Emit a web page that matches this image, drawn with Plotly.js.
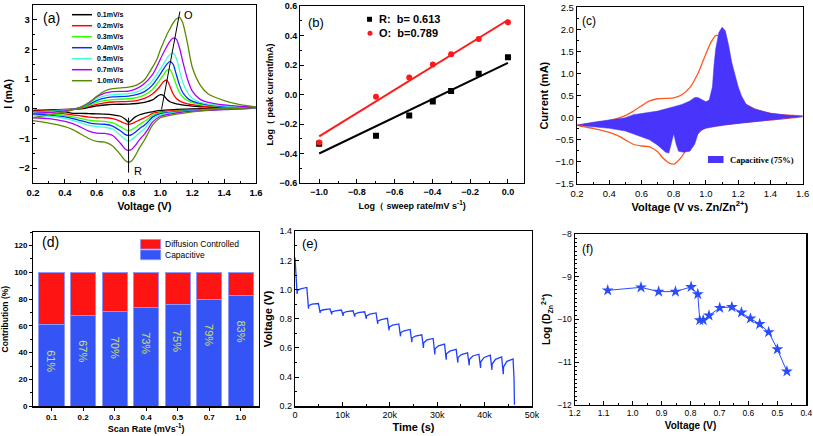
<!DOCTYPE html>
<html><head><meta charset="utf-8">
<script src="https://cdn.plot.ly/plotly-3.0.1.min.js"></script>
<style>html,body{margin:0;padding:0;background:#fff}#chart{width:813px;height:436px}</style>
</head><body><div id="chart"></div>
<script>
// ---------- (a) CV curves at different scan rates ----------
const rateLabels = ['0.1mV/s','0.2mV/s','0.3mV/s','0.4mV/s','0.5mV/s','0.7mV/s','1.0mV/s'];
const rateColors = ['#000000','#ff0000','#33ff00','#0033ff','#44ffcc','#aa00ff','#5a8a00'];
const vUp = [0.2,0.3,0.4,0.5,0.55,0.6,0.65,0.7,0.8,0.85,0.9,0.95,0.98,1.0,1.02,1.04,1.06,1.08,1.1,1.12,1.14,1.17,1.2,1.25,1.3,1.4,1.5,1.6];
const vDn = [1.6,1.4,1.2,1.1,1.0,0.95,0.92,0.9,0.87,0.84,0.82,0.8,0.78,0.75,0.7,0.65,0.6,0.55,0.5,0.45,0.4,0.3,0.2];
const iUp01 = [-0.05,-0.04,-0.02,0.0,0.05,0.1,0.13,0.15,0.16,0.18,0.22,0.3,0.42,0.48,0.45,0.32,0.24,0.2,0.17,0.15,0.13,0.11,0.09,0.07,0.06,0.04,0.03,0.03];
const iUp02 = [-0.08,-0.06,-0.03,0.02,0.08,0.15,0.2,0.23,0.25,0.28,0.35,0.5,0.65,0.78,0.92,0.97,0.75,0.5,0.35,0.27,0.22,0.17,0.14,0.1,0.08,0.05,0.04,0.04];
const iUp03 = [-0.1,-0.08,-0.04,0.03,0.12,0.22,0.28,0.31,0.34,0.38,0.47,0.65,0.85,1.0,1.15,1.3,1.32,1.1,0.8,0.55,0.4,0.28,0.21,0.15,0.11,0.07,0.05,0.04];
const iUp04 = [-0.12,-0.09,-0.05,0.04,0.15,0.28,0.36,0.4,0.43,0.48,0.58,0.8,1.02,1.18,1.35,1.5,1.6,1.5,1.15,0.8,0.55,0.36,0.26,0.18,0.13,0.08,0.06,0.05];
const iUp05 = [-0.13,-0.1,-0.06,0.05,0.18,0.34,0.44,0.48,0.51,0.57,0.7,0.95,1.18,1.35,1.52,1.7,1.83,1.88,1.7,1.3,0.9,0.55,0.36,0.22,0.16,0.1,0.07,0.05];
const iUp07 = [-0.15,-0.12,-0.07,0.06,0.2,0.4,0.53,0.58,0.6,0.68,0.85,1.15,1.45,1.68,1.9,2.1,2.28,2.38,2.35,2.05,1.6,1.0,0.6,0.32,0.22,0.13,0.08,0.05];
const iUp10 = [-0.3,-0.2,-0.1,0.05,0.2,0.42,0.6,0.68,0.73,0.8,0.98,1.4,1.7,2.0,2.25,2.5,2.7,2.9,3.03,3.08,2.9,2.2,1.4,0.8,0.5,0.28,0.14,0.06];
const iDn01 = [0.03,0.02,0.0,-0.02,-0.05,-0.1,-0.13,-0.15,-0.2,-0.28,-0.38,-0.45,-0.35,-0.25,-0.2,-0.18,-0.17,-0.16,-0.15,-0.15,-0.1,-0.07,-0.05];
const iDn02 = [0.03,0.01,-0.03,-0.06,-0.1,-0.15,-0.25,-0.3,-0.37,-0.45,-0.5,-0.52,-0.5,-0.42,-0.33,-0.3,-0.3,-0.28,-0.24,-0.2,-0.17,-0.13,-0.1];
const iDn03 = [0.03,0.0,-0.05,-0.08,-0.13,-0.22,-0.35,-0.42,-0.52,-0.64,-0.7,-0.73,-0.7,-0.6,-0.47,-0.42,-0.41,-0.38,-0.32,-0.27,-0.22,-0.17,-0.14];
const iDn04 = [0.03,-0.01,-0.06,-0.1,-0.16,-0.28,-0.45,-0.55,-0.66,-0.8,-0.87,-0.9,-0.87,-0.75,-0.58,-0.52,-0.51,-0.47,-0.4,-0.33,-0.27,-0.21,-0.18];
const iDn05 = [0.03,-0.02,-0.07,-0.12,-0.2,-0.35,-0.55,-0.67,-0.8,-0.95,-1.04,-1.08,-1.04,-0.9,-0.68,-0.62,-0.6,-0.56,-0.47,-0.39,-0.32,-0.25,-0.22];
const iDn07 = [0.04,-0.03,-0.08,-0.14,-0.25,-0.45,-0.7,-0.85,-1.03,-1.25,-1.36,-1.4,-1.36,-1.17,-0.9,-0.83,-0.82,-0.75,-0.62,-0.5,-0.42,-0.33,-0.3];
const iDn10 = [0.05,0.0,-0.1,-0.18,-0.3,-0.55,-0.85,-1.05,-1.3,-1.6,-1.75,-1.8,-1.75,-1.55,-1.25,-1.12,-1.1,-1.0,-0.85,-0.7,-0.6,-0.48,-0.4];
const peakOx = [1.007,1.122], peakOy = [-0.02,3.28];
const peakRx = [0.8,0.8], peakRy = [-0.3,-2.15];

// ---------- (b) log(peak current) vs log(sweep rate) ----------
const logRate = [-1,-0.699,-0.523,-0.398,-0.301,-0.155,0];
const logIR = [-0.334,-0.28,-0.142,-0.047,0.023,0.14,0.253];
const logIO = [-0.325,-0.016,0.115,0.203,0.273,0.377,0.49];
const fitX = [-1,0];
const fitR = [-0.40,0.215];
const fitO = [-0.284,0.505];

// ---------- (c) capacitive contribution at 0.5 mV/s ----------
const cUpV = [0.2,0.3,0.4,0.5,0.55,0.6,0.65,0.7,0.8,0.85,0.9,0.95,1.0,1.03,1.06,1.08,1.1,1.13,1.16,1.2,1.25,1.3,1.4,1.5,1.6];
const cUpI = [-0.17,-0.12,-0.06,0.05,0.15,0.27,0.38,0.43,0.45,0.52,0.68,1.0,1.45,1.7,1.86,1.85,1.55,1.0,0.6,0.35,0.3,0.2,0.1,0.06,0.04];
const cDnV = [1.6,1.4,1.2,1.1,1.0,0.95,0.9,0.85,0.82,0.8,0.77,0.73,0.7,0.65,0.6,0.55,0.5,0.45,0.4,0.3,0.2];
const cDnI = [0.03,-0.05,-0.12,-0.17,-0.22,-0.35,-0.6,-0.88,-1.0,-1.05,-1.02,-0.9,-0.77,-0.66,-0.64,-0.6,-0.5,-0.4,-0.33,-0.24,-0.17];
const capUpV = [0.2,0.3,0.4,0.5,0.55,0.6,0.7,0.8,0.85,0.9,0.93,0.95,0.97,1.0,1.02,1.04,1.05,1.06,1.08,1.1,1.12,1.14,1.16,1.18,1.2,1.22,1.25,1.3,1.4,1.5,1.6];
const capUpI = [-0.17,-0.1,-0.05,0.0,0.07,0.1,0.15,0.25,0.3,0.38,0.46,0.46,0.42,0.36,0.4,0.7,1.2,1.55,1.93,2.05,1.97,1.65,1.25,0.95,0.7,0.5,0.3,0.2,0.1,0.06,0.04];
const capDnV = [1.6,1.4,1.2,1.1,1.0,0.97,0.95,0.93,0.9,0.86,0.83,0.815,0.8,0.785,0.77,0.75,0.72,0.7,0.65,0.6,0.55,0.5,0.4,0.3,0.2];
const capDnI = [0.03,-0.05,-0.12,-0.17,-0.24,-0.28,-0.37,-0.6,-0.76,-0.78,-0.76,-0.6,-0.36,-0.6,-0.8,-0.78,-0.68,-0.62,-0.5,-0.43,-0.37,-0.3,-0.24,-0.2,-0.17];

// ---------- (d) contribution ratio ----------
const scanRates = ['0.1','0.2','0.3','0.4','0.5','0.7','1.0'];
const capPct = [61,68,71,74,76,80,83];
const difPct = [39,32,29,26,24,20,17];
const capLabels = ['61%','67%','70%','73%','75%','79%','83%'];

// ---------- (e) GITT profile ----------
const eT = [0,450,500,1200,2450,
 2500,2850,2900,3600,4900, 4950,5300,5350,6050,7350, 7400,7750,7800,8500,9750,
 9800,10150,10200,10900,12200, 12250,12600,12650,13350,14650, 14700,15050,15100,15800,17050,
 17100,17450,17500,18200,19450, 19500,19850,19900,20600,21850, 21900,22250,22300,23000,24250,
 24300,24650,24700,25400,26700, 26750,27100,27150,27850,29100, 29150,29500,29550,30250,31500,
 31550,31900,31950,32650,33950, 34000,34350,34400,35100,36350, 36400,36750,36800,37500,38750,
 38800,39150,39200,39900,41150, 41200,41550,41600,42300,43550, 43600,43950,44000,44700,45950,
 46000,46200,46300];
const eV = [1.22,0.97,0.995,1.005,1.015,
 1.015,0.87,0.89,0.9,0.905, 0.905,0.84,0.855,0.862,0.868, 0.868,0.83,0.848,0.855,0.86,
 0.86,0.82,0.84,0.85,0.855, 0.855,0.815,0.832,0.842,0.848, 0.848,0.8,0.82,0.832,0.84,
 0.84,0.765,0.785,0.795,0.803, 0.803,0.72,0.745,0.757,0.765, 0.765,0.68,0.705,0.718,0.727,
 0.727,0.64,0.668,0.682,0.69, 0.69,0.6,0.635,0.655,0.665, 0.665,0.555,0.595,0.615,0.627,
 0.627,0.52,0.56,0.578,0.59, 0.59,0.5,0.535,0.555,0.566, 0.566,0.48,0.52,0.545,0.557,
 0.557,0.463,0.505,0.535,0.55, 0.55,0.45,0.49,0.522,0.538, 0.538,0.42,0.47,0.508,0.525,
 0.525,0.4,0.21];
const eTickVals = [0,10000,20000,30000,40000,50000];
const eTickText = ['0','10k','20k','30k','40k','50k'];

// ---------- (f) diffusion coefficient ----------
const fV = [1.086,0.971,0.910,0.852,0.798,0.775,0.768,0.756,0.736,0.699,0.657,0.624,0.593,0.561,0.530,0.500,0.467];
const fD = [-9.32,-9.25,-9.35,-9.35,-9.24,-9.41,-10.02,-10.02,-9.91,-9.73,-9.71,-9.84,-9.98,-10.11,-10.30,-10.70,-11.22];

// ================= build =================
const F = 'Liberation Sans, Arial, sans-serif';
const W = 813, H = 436;
const px = v => v / W, py = v => 1 - v / H;

const upA = [iUp01,iUp02,iUp03,iUp04,iUp05,iUp07,iUp10];
const dnA = [iDn01,iDn02,iDn03,iDn04,iDn05,iDn07,iDn10];
const traces = [];
upA.forEach((u, k) => {
  traces.push({type:'scatter', mode:'lines', x: vUp.concat(vDn), y: u.concat(dnA[k]),
    line:{color:rateColors[k], width:1.3, shape:'spline', smoothing:0.7}, xaxis:'x', yaxis:'y', hoverinfo:'skip'});
});
traces.push({type:'scatter', mode:'lines', x:peakOx, y:peakOy, line:{color:'#000', width:1}, xaxis:'x', yaxis:'y'});
traces.push({type:'scatter', mode:'lines', x:peakRx, y:peakRy, line:{color:'#000', width:1}, xaxis:'x', yaxis:'y'});

// (b)
traces.push({type:'scatter', mode:'lines', x:fitX, y:fitR, line:{color:'#000', width:2}, xaxis:'x2', yaxis:'y2'});
traces.push({type:'scatter', mode:'lines', x:fitX, y:fitO, line:{color:'#ff1a1a', width:2}, xaxis:'x2', yaxis:'y2'});
traces.push({type:'scatter', mode:'markers', x:logRate, y:logIR, marker:{symbol:'square', size:6, color:'#000'}, xaxis:'x2', yaxis:'y2'});
traces.push({type:'scatter', mode:'markers', x:logRate, y:logIO, marker:{symbol:'circle', size:6, color:'#ff1a1a'}, xaxis:'x2', yaxis:'y2'});

// (c)
traces.push({type:'scatter', mode:'lines', x:cUpV.concat(cDnV), y:cUpI.concat(cDnI), line:{color:'rgb(255,90,30)', width:1.3, shape:'spline', smoothing:0.6}, xaxis:'x3', yaxis:'y3'});
traces.push({type:'scatter', mode:'lines', x:capUpV.concat(capDnV), y:capUpI.concat(capDnI), fill:'toself', fillcolor:'rgb(72,52,250)', line:{color:'rgb(72,52,250)', width:0.5}, xaxis:'x3', yaxis:'y3'});

// (d)
traces.push({type:'bar', x:scanRates, y:capPct, marker:{color:'rgb(52,84,245)', line:{color:'rgb(140,150,255)', width:1}}, xaxis:'x4', yaxis:'y4'});
traces.push({type:'bar', x:scanRates, y:difPct, marker:{color:'rgb(255,20,20)', line:{color:'rgb(140,150,255)', width:1}}, xaxis:'x4', yaxis:'y4'});

// (e)
traces.push({type:'scatter', mode:'lines', x:eT, y:eV, line:{color:'#1f3fff', width:1.3}, xaxis:'x5', yaxis:'y5'});

// (f)
traces.push({type:'scatter', mode:'lines+markers', x:fV, y:fD, line:{color:'#2a4cff', width:1}, marker:{symbol:'star', size:9, color:'#2a4cff'}, xaxis:'x6', yaxis:'y6'});

function ax(domain, range, extra) {
  return Object.assign({
    domain: domain, range: range, showline:true, mirror:true, linecolor:'#000', linewidth:1.2,
    ticks:'inside', ticklen:4, tickwidth:1, tickcolor:'#000', showgrid:false, zeroline:false,
    tickfont:{family:F, size:9, color:'#000'}, fixedrange:true
  }, extra);
}
const tb = (t, size, st) => ({text:t, font:{family:F, size:size, color:'#000', weight:'bold'}, standoff:st});
const minor = (d, len, dir) => ({dtick:d, ticklen:len||2, tickcolor:'#000', ticks:dir||'inside'});

const layout = {
  width:W, height:H, margin:{l:0,r:0,t:0,b:0}, paper_bgcolor:'#fff', plot_bgcolor:'#fff',
  showlegend:false, barmode:'stack', bargap:0.2,
  xaxis: ax([33/W,256/W],[0.2,1.6],{anchor:'y', dtick:0.2, tick0:0.2, tickformat:'.1f', minor:minor(0.1),
    tickfont:{family:F,size:9.5,weight:'bold',color:'#000'}, title:tb('Voltage (V)',10.5,6)}),
  yaxis: ax([py(183),py(5)],[-2.5,3.5],{anchor:'x', dtick:1, minor:minor(0.5),
    tickfont:{family:F,size:9.5,weight:'bold',color:'#000'}, title:tb('I (mA)',10.5,4)}),
  xaxis2: ax([300.3/W,524/W],[-1.1,0.085],{anchor:'y2', dtick:0.2, tick0:0, tickformat:'.1f', minor:minor(0.1),
    tickfont:{family:F,size:9,weight:'bold',color:'#000'}, title:tb('Log（ sweep rate/mV s<sup>-1</sup>)',9,6)}),
  yaxis2: ax([py(183),py(6)],[-0.6,0.6],{anchor:'x2', dtick:0.2, tickformat:'.1f', minor:minor(0.1),
    tickfont:{family:F,size:9,weight:'bold',color:'#000'}, title:tb('Log（ peak current/mA)',9,4)}),
  xaxis3: ax([577/W,802.7/W],[0.2,1.6],{anchor:'y3', dtick:0.2, tick0:0.2, tickformat:'.1f', minor:minor(0.1),
    tickfont:{family:F,size:9.5,color:'#000'}, title:tb('Voltage (V vs. Zn/Zn<sup>2+</sup>)',11,5)}),
  yaxis3: ax([py(184),py(7.3)],[-1.5,2.5],{anchor:'x3', dtick:0.5, tickformat:'.1f', minor:minor(0.25),
    tickfont:{family:F,size:9.5,color:'#000'}, title:tb('Current (mA)',11,4)}),
  xaxis4: ax([33.3/W,259/W],[-0.58,6.58],{anchor:'y4', type:'category', ticks:'outside', ticklen:3,
    tickfont:{family:F,size:8,weight:'bold',color:'#000'}, title:tb('Scan Rate (mVs<sup>-1</sup>)',9,4)}),
  yaxis4: ax([py(406.3),py(232)],[0,130],{anchor:'x4', dtick:20, ticks:'outside', ticklen:3, minor:minor(10,2,'outside'),
    tickfont:{family:F,size:8,weight:'bold',color:'#000'}, title:tb('Contribution (%)',8.5,4)}),
  xaxis5: ax([295/W,532/W],[0,50000],{anchor:'y5', tickvals:eTickVals, ticktext:eTickText, minor:{tickvals:[5000,15000,25000,35000,45000], ticklen:2, ticks:'inside', tickcolor:'#000'},
    tickfont:{family:F,size:9,color:'#000'}, title:tb('Time (s)',11,4)}),
  yaxis5: ax([py(406.3),py(231.3)],[0.2,1.4],{anchor:'x5', dtick:0.2, tickformat:'.1f', minor:minor(0.1),
    tickfont:{family:F,size:9,color:'#000'}, title:tb('Voltage (V)',11,4)}),
  xaxis6: ax([574.7/W,806.3/W],[1.2,0.4],{anchor:'y6', dtick:0.1, tickformat:'.1f', minor:minor(0.05),
    tickfont:{family:F,size:8.5,color:'#000'}, title:tb('Voltage (V)',10,5)}),
  yaxis6: ax([py(404.7),py(234)],[-12,-8],{anchor:'x6', dtick:1, minor:minor(0.1,2),
    tickfont:{family:F,size:8.5,color:'#000'}, title:tb('Log (D<sub>Zn</sub><sup>2+</sup>)',10,4)}),
  shapes: [], annotations: []
};

// panel labels
[['(a)',52,18,14],['(b)',315.7,22.7,13],['(c)',588.7,20.7,12],['(d)',50,242,14],['(e)',310.3,243,13],['(f)',587,248.7,12]].forEach(l => {
  layout.annotations.push({text:l[0], xref:'paper', yref:'paper', x:px(l[1]), y:py(l[2]), xanchor:'center', yanchor:'middle', showarrow:false, font:{family:F, size:l[3], color:'#000'}});
});

// (a) legend
rateLabels.forEach((t, k) => {
  const yy = 14.7 + 11 * k;
  layout.shapes.push({type:'line', xref:'paper', yref:'paper', x0:px(72), x1:px(92), y0:py(yy), y1:py(yy), line:{color:rateColors[k], width:1.5}});
  layout.annotations.push({text:t, xref:'paper', yref:'paper', x:px(95), y:py(yy), xanchor:'left', yanchor:'middle', showarrow:false, font:{family:F, size:7, color:'#000', weight:'bold'}});
});
layout.annotations.push({text:'O', xref:'x', yref:'y', x:1.175, y:3.15, showarrow:false, font:{family:F, size:11, color:'#000'}});
layout.annotations.push({text:'R', xref:'x', yref:'y', x:0.86, y:-2.1, showarrow:false, font:{family:F, size:11, color:'#000'}});

// (b) legend
layout.shapes.push({type:'rect', xref:'paper', yref:'paper', x0:px(367), x1:px(372), y0:py(21.8), y1:py(16.8), fillcolor:'#000', line:{width:0}});
layout.shapes.push({type:'circle', xref:'paper', yref:'paper', x0:px(367.5), x1:px(372.5), y0:py(35.8), y1:py(30.8), fillcolor:'#ff1a1a', line:{width:0}});
layout.annotations.push({text:'R:\u00a0 b= 0.613', xref:'paper', yref:'paper', x:px(377), y:py(19.3), xanchor:'left', yanchor:'middle', showarrow:false, font:{family:F, size:11, color:'#000', weight:'bold'}});
layout.annotations.push({text:'O:\u00a0 b=0.789', xref:'paper', yref:'paper', x:px(377), y:py(33.3), xanchor:'left', yanchor:'middle', showarrow:false, font:{family:F, size:11, color:'#000', weight:'bold'}});

// (c) legend
layout.shapes.push({type:'rect', xref:'paper', yref:'paper', x0:px(708), x1:px(723.5), y0:py(163), y1:py(156), fillcolor:'rgb(72,52,250)', line:{width:0}});
layout.annotations.push({text:'Capacitive (75%)', xref:'paper', yref:'paper', x:px(728), y:py(159.5), xanchor:'left', yanchor:'middle', showarrow:false, font:{family:'Liberation Serif, Times New Roman, serif', size:8.5, color:'#000', weight:'bold'}});

// (d) legend
layout.shapes.push({type:'rect', xref:'paper', yref:'paper', x0:px(140.5), x1:px(160.7), y0:py(249), y1:py(239.5), fillcolor:'rgb(255,20,20)', line:{color:'rgb(140,150,255)', width:0.8}});
layout.shapes.push({type:'rect', xref:'paper', yref:'paper', x0:px(140.5), x1:px(160.7), y0:py(259.7), y1:py(250), fillcolor:'rgb(52,84,245)', line:{color:'rgb(140,150,255)', width:0.8}});
layout.annotations.push({text:'Diffusion Controlled', xref:'paper', yref:'paper', x:px(162.7), y:py(244), xanchor:'left', yanchor:'middle', showarrow:false, font:{family:F, size:8.5, color:'#000'}});
layout.annotations.push({text:'Capacitive', xref:'paper', yref:'paper', x:px(162.7), y:py(255), xanchor:'left', yanchor:'middle', showarrow:false, font:{family:F, size:8.5, color:'#000'}});
capPct.forEach((v, k) => {
  layout.annotations.push({text:capLabels[k], xref:'x4', yref:'y4', x:k, y:v - 27, textangle:90, showarrow:false, font:{family:F, size:11, color:'rgb(212,224,88)'}});
});

Plotly.newPlot('chart', traces, layout, {staticPlot:true, displayModeBar:false});
</script></body></html>
